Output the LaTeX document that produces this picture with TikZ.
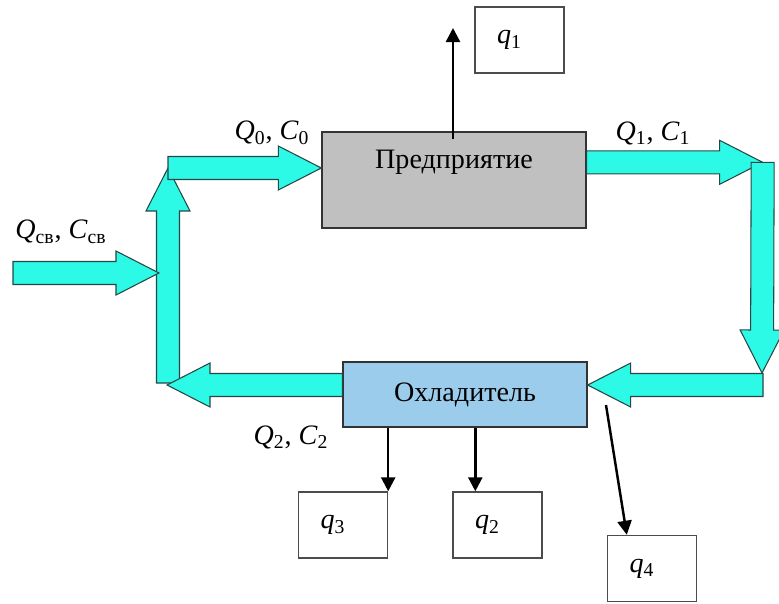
\documentclass[tikz,border=0pt]{standalone}
\usepackage{fontspec}
\setmainfont{Liberation Serif}
\usetikzlibrary{arrows.meta,positioning,calc}
\definecolor{flowcyan}{RGB}{45,250,230}
\definecolor{flowedge}{RGB}{40,70,70}
\definecolor{plantgray}{RGB}{192,192,192}
\definecolor{coolblue}{RGB}{155,204,236}
\tikzset{
  unit/.style   ={draw=black!80,line width=0.8pt,minimum width=5.28cm,minimum height=1.92cm,font=\fontsize{16}{19}\selectfont},
  qbox/.style   ={draw=black!70,line width=0.8pt,minimum width=1.78cm,minimum height=1.32cm,text width=0.9cm,inner xsep=0.44cm,align=left,font=\fontsize{16}{19}\selectfont},
  ar/.style     ={-{Triangle[length=8pt,width=8pt]},line width=1.4pt},
  flow/.style   ={fill=flowcyan,draw=flowedge,line width=0.6pt,line join=miter},
  flowlbl/.style={font=\fontsize{16}{19}\selectfont,inner sep=1pt},
}
\newcommand\shaftw{0.23cm}
\newcommand\headw{0.44cm}
\newcommand\headl{0.86cm}
% fat block arrow from #1 to #2
\newcommand\flowarrow[2]{%
  \coordinate (fh) at ($(#2)!\headl!(#1)$);
  \draw[flow] ($(#1)!\shaftw!90:(#2)$) -- ($(fh)!\shaftw!90:(#2)$) -- ($(fh)!\headw!90:(#2)$)
    -- (#2) -- ($(fh)!\headw!-90:(#2)$) -- ($(fh)!\shaftw!-90:(#2)$) -- ($(#1)!\shaftw!-90:(#2)$) -- cycle;}

\begin{document}
\begin{tikzpicture}[x=0.02cm,y=-0.02cm]
  \useasboundingbox (0,0) rectangle (779,603);

  % units
  \node[unit,fill=plantgray,label={[flowlbl,yshift=0.36cm]center:Предприятие}] (plant) at (454,180) {};
  \node[unit,fill=coolblue,minimum width=4.88cm,minimum height=1.3cm] (cool) at (465,394.5) {Охладитель};

  % loss boxes
  \node[qbox] (q1) at (519.5,40) {\textit{q}\textsubscript{1}};
  \node[qbox] (q3) at (343,525) {\textit{q}\textsubscript{3}};
  \node[qbox] (q2) at (497.5,525) {\textit{q}\textsubscript{2}};
  \node[qbox] (q4) at (652,568.5) {\textit{q}\textsubscript{4}};

  % pipe corners
  \coordinate (src) at (13,273);
  \coordinate (jin) at (159,273);
  \coordinate (jbot) at (168,383);
  \coordinate (jtop) at (168,168);
  \coordinate (p0) at (plant.west |- jtop);
  \coordinate (p1) at ($(plant.north east)+(0,31)$);
  \coordinate (rtop) at ($(p1)+(176,0)$);
  \coordinate (rbot) at (762,373);
  \coordinate (c1) at (763,385);
  \coordinate (cin) at (cool.east |- c1);
  \coordinate (cout) at (cool.west |- c1);
  \coordinate (jleft) at (167,385);

  \flowarrow{jbot}{jtop}
  \flowarrow{src}{jin}
  \flowarrow{jtop}{p0}
  \flowarrow{p1}{rtop}
  \flowarrow{rtop}{rbot}
  \flowarrow{c1}{cin}
  \flowarrow{cout}{jleft}

  % flow labels
  \node[flowlbl] (lsrc) at (61,232) {\textit{Q}\textsubscript{св}, \textit{C}\textsubscript{св}};
  \node[flowlbl] (l0) at (272,133) {\textit{Q}\textsubscript{0}, \textit{C}\textsubscript{0}};
  \node[flowlbl] (l1) at (653,133) {\textit{Q}\textsubscript{1}, \textit{C}\textsubscript{1}};
  \node[flowlbl] (l2) at (291,437) {\textit{Q}\textsubscript{2}, \textit{C}\textsubscript{2}};

  % losses
  \coordinate (q1out) at (453,28);
  \draw[ar] ($(plant.north -| q1out)+(0,8)$) -- (q1out);
  \draw[ar] (cool.south -| q3.north east) -- (q3.north east);
  \coordinate (q2in) at ($(q2.north west)+(23,0)$);
  \draw[ar] (cool.south -| q2in) -- (q2in);
  \coordinate (q4from) at (606,405);
  \coordinate (q4in) at ($(q4.north west)+(20,0)$);
  \draw[ar] (q4from) -- (q4in);
\end{tikzpicture}
\end{document}
